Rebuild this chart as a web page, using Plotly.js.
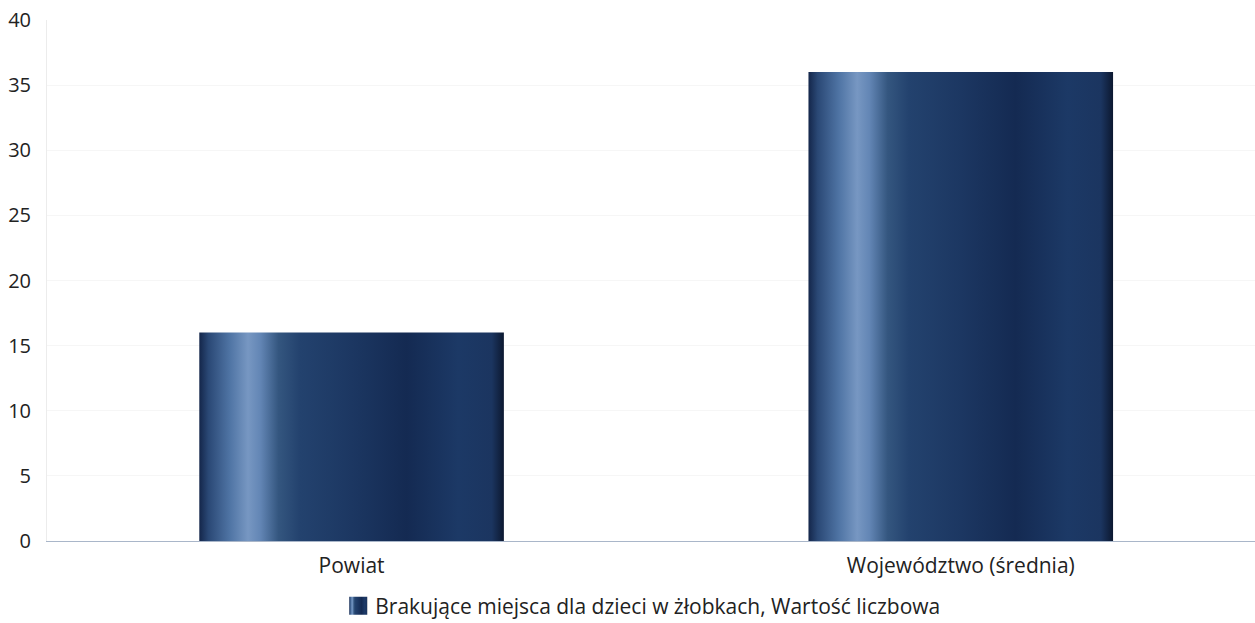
<!DOCTYPE html>
<html>
<head>
<meta charset="utf-8">
<script src="https://cdn.plot.ly/plotly-3.0.1.min.js"></script>
<style>
html,body{margin:0;padding:0;background:#fff;}
#chart{width:1255px;height:623px;}
</style>
</head>
<body>
<div id="chart"></div>
<script>
const categories = ["Powiat", "Województwo (średnia)"];
const values = [16, 36];
const seriesName = "Brakujące miejsca dla dzieci w żłobkach, Wartość liczbowa";
const yTicks = [0, 5, 10, 15, 20, 25, 30, 35, 40];

const trace = {
  type: "bar",
  x: categories,
  y: values,
  name: seriesName,
  width: 0.5,
  marker: {color: "#1d3862", line: {width: 0}},
  hoverinfo: "none",
  showlegend: true
};

const layout = {
  width: 1255,
  height: 623,
  margin: {l: 47, r: 0, t: 20, b: 82},
  paper_bgcolor: "#ffffff",
  plot_bgcolor: "#ffffff",
  font: {family: "Open Sans, Noto Sans, sans-serif", color: "#222222", size: 21},
  showlegend: true,
  legend: {
    orientation: "h",
    xref: "paper",
    x: 0.4915, xanchor: "center",
    yref: "container",
    y: 0.0273, yanchor: "middle",
    font: {size: 21, color: "#222222"}
  },
  xaxis: {
    type: "category",
    range: [-0.5, 1.483],
    showgrid: false,
    showline: true,
    linecolor: "#a9b6c9",
    linewidth: 1,
    ticks: "",
    ticklabelstandoff: 6,
    tickfont: {size: 21, color: "#222222"},
    zeroline: false,
    fixedrange: true
  },
  yaxis: {
    range: [0, 40],
    tickvals: yTicks,
    ticktext: yTicks.map(String),
    showgrid: true,
    gridcolor: "#f6f6f6",
    gridwidth: 1,
    showline: true,
    linecolor: "#ececec",
    zeroline: false,
    ticks: "",
    ticklabelstandoff: 11,
    tickfont: {size: 20, color: "#222222"},
    fixedrange: true
  },
  bargap: 0.5
};

function applyGradient(gd) {
  const svg = gd.querySelector("svg.main-svg");
  const ns = "http://www.w3.org/2000/svg";
  let defs = svg.querySelector("defs");
  if (!defs) { defs = document.createElementNS(ns, "defs"); svg.insertBefore(defs, svg.firstChild); }
  if (!document.getElementById("barGrad")) {
    const g = document.createElementNS(ns, "linearGradient");
    g.setAttribute("id", "barGrad");
    g.setAttribute("x1", "0"); g.setAttribute("y1", "0");
    g.setAttribute("x2", "1"); g.setAttribute("y2", "0");
    const stops = [
      [0, "#14264a"], [0.03, "#2a4875"], [0.10, "#4f74a4"], [0.16, "#7797c2"],
      [0.20, "#6386b5"], [0.26, "#34567f"], [0.33, "#23426e"], [0.5, "#1c3762"],
      [0.68, "#142a52"], [0.85, "#1c3966"], [0.96, "#1b3560"], [1, "#0c1830"]
    ];
    stops.forEach(s => {
      const st = document.createElementNS(ns, "stop");
      st.setAttribute("offset", s[0]);
      st.setAttribute("stop-color", s[1]);
      g.appendChild(st);
    });
    defs.appendChild(g);
  }
  gd.querySelectorAll(".barlayer .point path").forEach(p => {
    p.style.fill = "url(#barGrad)";
  });
  gd.querySelectorAll(".legend .legendpoints path").forEach(p => {
    p.setAttribute("d", "M-6,-9H12V9H-6Z");
    p.style.fill = "url(#barGrad)";
    p.style.stroke = "none";
  });
}

const gd = document.getElementById("chart");
Plotly.newPlot(gd, [trace], layout, {displayModeBar: false, staticPlot: true}).then(() => {
  applyGradient(gd);
});
</script>
</body>
</html>
